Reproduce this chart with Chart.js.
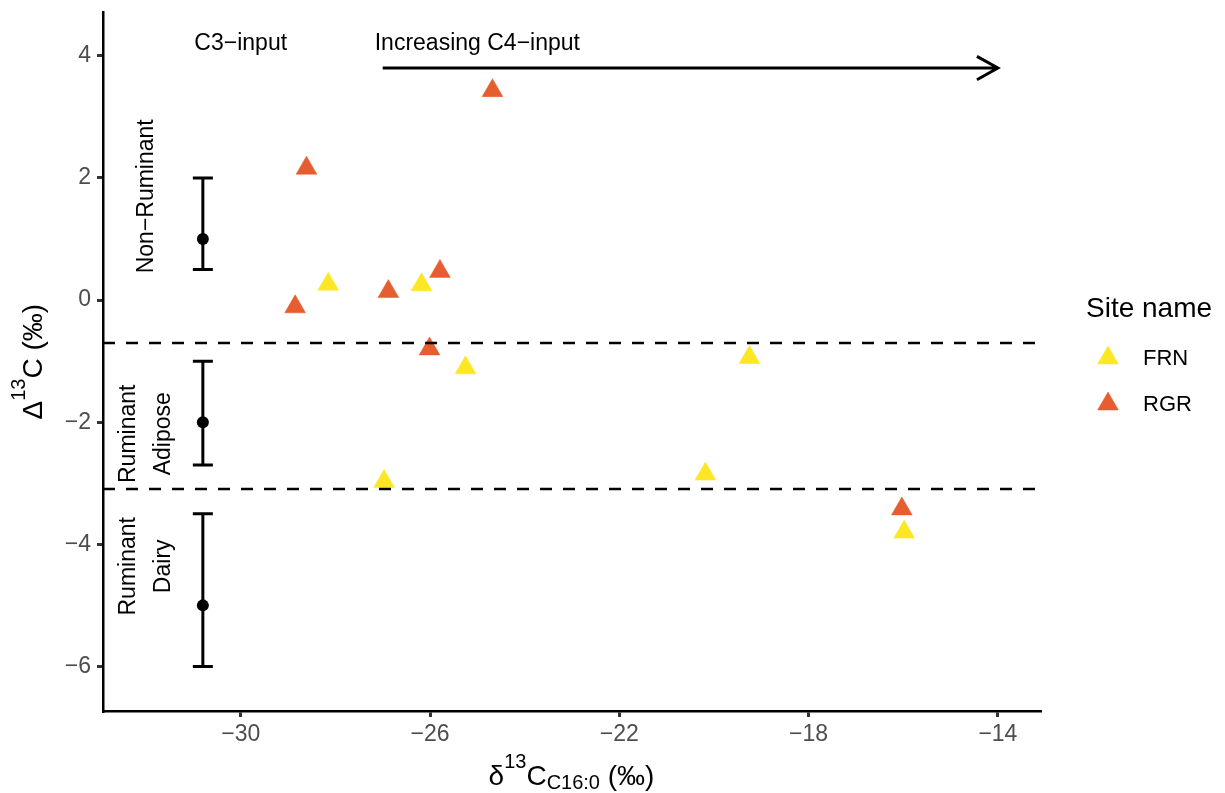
<!DOCTYPE html>
<html lang="en">
<head>
  <meta charset="UTF-8" />
  <title>Δ13C against δ13C C16:0</title>
  <script src="https://cdn.jsdelivr.net/npm/chart.js"></script>
  <style>
    body { margin: 0; background: #ffffff; }
  </style>
</head>
<body>
  <canvas id="isoChart" width="1225" height="793"></canvas>

  <script>
    // Axis ticks
    const xTicks = [-30, -26, -22, -18, -14];
    const yTicks = [4, 2, 0, -2, -4, -6];

    // Sites and sample values (δ13C C16:0, Δ13C)
    const sites = ['FRN', 'RGR'];
    const frnX = [-28.15, -26.18, -25.25, -26.97, -20.18, -19.25, -15.98];
    const frnY = [0.26, 0.25, -1.11, -2.97, -2.85, -0.94, -3.80];
    const rgrX = [-28.61, -24.68, -28.85, -26.88, -25.79, -26.01, -16.03];
    const rgrY = [2.16, 3.43, -0.11, 0.14, 0.47, -0.80, -3.42];

    // Reference fat ranges
    const refGroups = [['Non−Ruminant'], ['Ruminant', 'Adipose'], ['Ruminant', 'Dairy']];
    const refMean = [1, -2, -5];
    const refLow = [0.5, -2.7, -6];
    const refHigh = [2, -1, -3.5];
    const refX = -30.8;

    // Boundaries between the ranges
    const boundaries = [-0.7, -3.1];

    const siteColors = ['#FDE725', '#E65D2F'];
    const FONT = '"Liberation Sans", Arial, Helvetica, sans-serif';

    // where the text bits go, in data units
    const topLabels = [
      { text: 'C3−input', x: -30.0, y: 4.2 },
      { text: 'Increasing C4−input', x: -25.0, y: 4.2 }
    ];
    const groupLabelX = -31.99;
    const groupLabelY = [1.70, -2.19, -4.36];
    const arrowFrom = { x: -27, y: 3.8 };
    const arrowTo = { x: -14, y: 3.8 };

    const fmt = v => (v < 0 ? '−' + Math.abs(v) : String(v));

    function toPoints(xs, ys) {
      return xs.map((x, i) => ({ x: x, y: ys[i] }));
    }

    // draws text made of normal / sup / sub pieces, centred at (cx, baseline)
    function drawRich(ctx, parts, cx, base, size) {
      const fontFor = p => (p.s === 'n' ? size : Math.round(size * 0.7)) + 'px ' + FONT;
      let total = 0;
      parts.forEach(p => { ctx.font = fontFor(p); p.w = ctx.measureText(p.t).width; total += p.w; });
      let x = cx - total / 2;
      ctx.textAlign = 'left';
      ctx.textBaseline = 'alphabetic';
      parts.forEach(p => {
        ctx.font = fontFor(p);
        let dy = 0;
        if (p.s === 'sup') dy = -size * 0.6;
        if (p.s === 'sub') dy = size * 0.14;
        ctx.fillText(p.t, x, base + dy);
        x += p.w;
      });
    }

    const overlayPlugin = {
      id: 'overlay',
      beforeDatasetsDraw(chart) {
        const { ctx, scales: { x, y } } = chart;
        // error bars for the reference ranges
        ctx.save();
        ctx.strokeStyle = '#000';
        ctx.lineWidth = 3;
        const px = x.getPixelForValue(refX);
        refMean.forEach((m, i) => {
          const top = y.getPixelForValue(refHigh[i]);
          const bot = y.getPixelForValue(refLow[i]);
          ctx.beginPath();
          ctx.moveTo(px, top); ctx.lineTo(px, bot);
          ctx.moveTo(px - 10, top); ctx.lineTo(px + 10, top);
          ctx.moveTo(px - 10, bot); ctx.lineTo(px + 10, bot);
          ctx.stroke();
        });
        ctx.restore();
      },
      afterDatasetsDraw(chart) {
        const { ctx, chartArea: a, scales: { x, y } } = chart;
        ctx.save();

        // dashed boundaries
        ctx.strokeStyle = '#000';
        ctx.lineWidth = 2.5;
        ctx.setLineDash([12, 11]);
        boundaries.forEach(b => {
          const py = Math.round(y.getPixelForValue(b));
          ctx.beginPath();
          ctx.moveTo(a.left, py); ctx.lineTo(a.right, py);
          ctx.stroke();
        });
        ctx.setLineDash([]);

        // arrow
        const ax0 = x.getPixelForValue(arrowFrom.x), ay = y.getPixelForValue(arrowFrom.y);
        const ax1 = x.getPixelForValue(arrowTo.x);
        ctx.lineWidth = 3;
        ctx.beginPath();
        ctx.moveTo(ax0, ay); ctx.lineTo(ax1, ay);
        const head = 24, ang = Math.PI / 6.2;
        ctx.moveTo(ax1 - head * Math.cos(ang), ay - head * Math.sin(ang));
        ctx.lineTo(ax1, ay);
        ctx.lineTo(ax1 - head * Math.cos(ang), ay + head * Math.sin(ang));
        ctx.stroke();

        // annotations
        ctx.fillStyle = '#000';
        ctx.font = '23px ' + FONT;
        ctx.textAlign = 'center';
        ctx.textBaseline = 'middle';
        topLabels.forEach(t => {
          ctx.fillText(t.text, x.getPixelForValue(t.x), y.getPixelForValue(t.y));
        });
        refGroups.forEach((lines, i) => {
          ctx.save();
          ctx.translate(x.getPixelForValue(groupLabelX), y.getPixelForValue(groupLabelY[i]));
          ctx.rotate(-Math.PI / 2);
          const gap = 35;
          lines.forEach((ln, k) => {
            ctx.fillText(ln, 0, (k - (lines.length - 1) / 2) * gap);
          });
          ctx.restore();
        });

        // axis titles
        drawRich(ctx, [
          { t: 'δ', s: 'n' }, { t: '13', s: 'sup' }, { t: 'C', s: 'n' },
          { t: 'C16:0', s: 'sub' }, { t: ' (‰)', s: 'n' }
        ], (a.left + a.right) / 2, 785, 28);

        ctx.save();
        ctx.translate(42, (a.top + a.bottom) / 2);
        ctx.rotate(-Math.PI / 2);
        drawRich(ctx, [
          { t: 'Δ', s: 'n' }, { t: '13', s: 'sup' }, { t: 'C (‰)', s: 'n' }
        ], 0, 0, 28);
        ctx.restore();

        // legend
        ctx.textAlign = 'left';
        ctx.textBaseline = 'middle';
        ctx.font = '28px ' + FONT;
        ctx.fillText('Site name', 1086, 309);
        ctx.font = '22px ' + FONT;
        sites.forEach((s, i) => {
          const ly = 358 + i * 46;
          ctx.fillStyle = siteColors[i];
          ctx.strokeStyle = siteColors[i];
          ctx.lineWidth = 0.5;
          Chart.helpers.drawPoint(ctx, { pointStyle: 'triangle', radius: 12, rotation: 0, borderWidth: 0.5 }, 1108, ly);
          ctx.fillStyle = '#000';
          ctx.fillText(s, 1143, ly + 1);
        });
        ctx.restore();
      }
    };

    const tickFont = { family: FONT, size: 23 };

    new Chart(document.getElementById('isoChart').getContext('2d'), {
      type: 'scatter',
      data: {
        datasets: [
          {
            label: sites[0],
            data: toPoints(frnX, frnY),
            pointStyle: 'triangle',
            pointRadius: 12,
            backgroundColor: siteColors[0],
            borderColor: siteColors[0],
            borderWidth: 0.5
          },
          {
            label: sites[1],
            data: toPoints(rgrX, rgrY),
            pointStyle: 'triangle',
            pointRadius: 12,
            backgroundColor: siteColors[1],
            borderColor: siteColors[1],
            borderWidth: 0.5
          },
          {
            label: 'reference mean',
            data: refMean.map(m => ({ x: refX, y: m })),
            pointStyle: 'circle',
            pointRadius: 6,
            backgroundColor: '#000',
            borderColor: '#000',
            borderWidth: 0
          }
        ]
      },
      options: {
        responsive: false,
        animation: false,
        layout: { padding: { top: 10, right: 185, left: 0, bottom: 0 } },
        plugins: {
          legend: { display: false },
          tooltip: { enabled: false }
        },
        scales: {
          x: {
            type: 'linear',
            min: -32.91,
            max: -13.11,
            afterBuildTicks: s => { s.ticks = xTicks.map(v => ({ value: v })); },
            afterFit: s => { s.height = 82; s.paddingLeft = 0; s.paddingRight = 0; },
            ticks: { callback: fmt, color: '#4D4D4D', font: tickFont, padding: 4, maxRotation: 0, autoSkip: false },
            grid: { drawOnChartArea: false, drawTicks: true, tickLength: 6, color: '#333', lineWidth: 3 },
            border: { color: '#000', width: 2.5 }
          },
          y: {
            type: 'linear',
            min: -6.73,
            max: 4.71,
            afterBuildTicks: s => { s.ticks = yTicks.map(v => ({ value: v })); },
            afterFit: s => { s.width = 103; s.paddingTop = 0; s.paddingBottom = 0; },
            ticks: { callback: fmt, color: '#4D4D4D', font: tickFont, padding: 6, autoSkip: false },
            grid: { drawOnChartArea: false, drawTicks: true, tickLength: 6, color: '#333', lineWidth: 3 },
            border: { color: '#000', width: 2.5 }
          }
        }
      },
      plugins: [overlayPlugin]
    });
  </script>
</body>
</html>
